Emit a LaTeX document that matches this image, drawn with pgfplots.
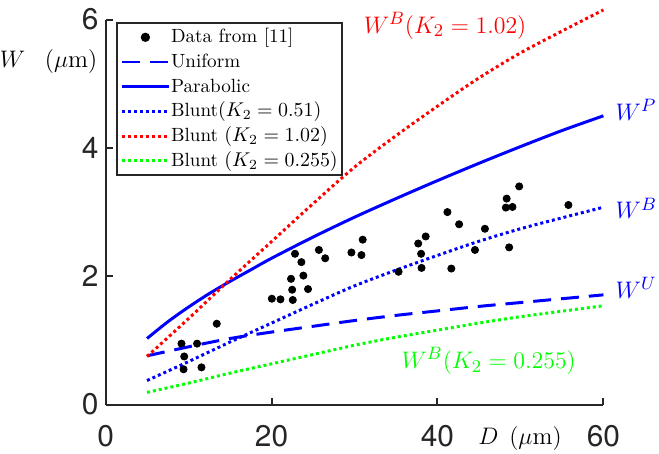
\documentclass[border=0pt]{standalone}
\usepackage{fontspec}
\usepackage{pgfplots}
\pgfplotsset{compat=1.18}
\newfontfamily\helv{TeX Gyre Heros}
\definecolor{axgray}{RGB}{38,38,38}
\pgfplotsset{
  linelegend/.style={legend image code/.code={\draw[##1] (0pt,0pt) -- (23.5pt,0pt);}},
  marklegend/.style={legend image code/.code={\draw[##1] plot coordinates {(11.75pt,0pt)};}},
  dotline/.style={line width=1.5pt, dash pattern=on 1.5pt off 1.5pt},
}
\begin{document}
\begin{tikzpicture}
\begin{axis}[
  scale only axis, width=250pt, height=193.35pt,
  xmin=0, xmax=60, ymin=0, ymax=6, clip=false,
  axis lines=left, axis line style={-, draw=axgray, line width=1pt},
  tick align=inside, major tick length=3.5pt, tick style={axgray, line width=1pt},
  xtick={0,20,40,60}, ytick={0,2,4,6},
  tick label style={font=\helv\fontsize{15}{18}\selectfont, text=axgray},
  xticklabel style={yshift=-7pt},
  /pgf/number format/assume math mode=true,
  legend cell align=left,
  legend style={at={(axis cs:1.2,5.964)}, anchor=north west, draw=axgray, line width=1pt,
    font=\fontsize{9.6}{11}\selectfont, inner xsep=2pt, inner ysep=1.5pt, row sep=0.9pt,
    nodes={inner sep=0.4pt, text height=8.1pt, text depth=2.6pt},
    /tikz/every even column/.append style={column sep=1pt}},
]
% measured widths from [11]
\addplot[only marks, mark=*, mark size=1.8pt, black, marklegend] coordinates {
(9.15,0.95) (9.48,0.75) (9.40,0.55) (11.03,0.95) (11.56,0.58) (13.40,1.26)
(20.04,1.65) (21.08,1.64) (22.56,1.63) (22.49,1.79) (22.35,1.96) (23.84,2.01)
(24.40,1.80) (23.60,2.22) (22.83,2.35) (25.71,2.41) (26.47,2.28) (29.63,2.37)
(30.84,2.33) (30.99,2.57) (35.31,2.07) (38.08,2.13) (38.03,2.35) (37.68,2.51)
(38.58,2.62) (41.20,3.00) (41.67,2.12) (42.61,2.81) (44.52,2.41) (45.72,2.74)
(48.34,3.21) (48.24,3.07) (49.04,3.08) (49.85,3.40) (48.64,2.45) (55.78,3.11)};
\addlegendentry{Data from [11]}
% uniform
\addplot[blue, line width=1.5pt, dash pattern=on 9pt off 5pt, linelegend, smooth] coordinates {
(5,0.76) (10,0.90) (15,1.03) (20,1.13) (25,1.22) (30,1.31) (35,1.39) (40,1.46)
(45,1.53) (50,1.59) (55,1.65) (60,1.71)};
\addlegendentry{Uniform}
% parabolic
\addplot[blue, line width=1.5pt, linelegend, smooth] coordinates {
(5,1.03) (7.5,1.29) (10,1.52) (12.5,1.73) (15,1.92) (17.5,2.10) (20,2.28) (25,2.61)
(30,2.92) (35,3.21) (40,3.49) (45,3.76) (50,4.02) (55,4.27) (60,4.50)};
\addlegendentry{Parabolic}
% blunt K2 = 0.51
\addplot[blue, dotline, linelegend, smooth] coordinates {
(5,0.375) (10,0.67) (15,0.975) (20,1.27) (25,1.565) (30,1.85) (35,2.095) (40,2.325)
(45,2.545) (50,2.74) (55,2.91) (60,3.075)};
\addlegendentry{Blunt$(K_2=0.51)$}
% blunt K2 = 1.02
\addplot[red, dotline, linelegend, smooth] coordinates {
(5,0.75) (10,1.34) (15,1.95) (20,2.54) (25,3.13) (30,3.70) (35,4.19) (40,4.65)
(45,5.09) (50,5.48) (55,5.82) (60,6.15)};
\addlegendentry{Blunt $(K_2=1.02)$}
% blunt K2 = 0.255
\addplot[green, dotline, linelegend, smooth] coordinates {
(5,0.19) (10,0.335) (15,0.49) (20,0.635) (25,0.78) (30,0.925) (35,1.05) (40,1.16)
(45,1.27) (50,1.37) (55,1.455) (60,1.54)};
\addlegendentry{Blunt $(K_2=0.255)$}

\node[anchor=base west, inner sep=0, text=red, font=\fontsize{12.6}{15}\selectfont] at (axis cs:31.07,5.79) {$W^B(K_2=1.02)$};
\node[anchor=base west, inner sep=0, text=green, font=\fontsize{12.6}{15}\selectfont] at (axis cs:35.63,0.56) {$W^B(K_2=0.255)$};
\node[anchor=base west, inner sep=0, text=blue, font=\fontsize{12.6}{15}\selectfont] at (axis cs:61.43,4.43) {$W^P$};
\node[anchor=base west, inner sep=0, text=blue, font=\fontsize{12.6}{15}\selectfont] at (axis cs:61.43,2.895) {$W^B$};
\node[anchor=base west, inner sep=0, text=blue, font=\fontsize{12.6}{15}\selectfont] at (axis cs:61.43,1.655) {$W^U$};
\node[anchor=base east, inner sep=0, font=\fontsize{12.3}{14}\selectfont] at (axis cs:-0.96,5.25) {$W$\hspace{0.8em}$(\mu\mathrm{m})$};
\node[anchor=base west, inner sep=0, font=\fontsize{12.3}{14}\selectfont] at (axis cs:44.87,-0.62) {$D$\hspace{0.45em}$(\mu\mathrm{m})$};
\path (axis cs:-12.36,-0.749) rectangle (axis cs:66.7,6.305);
\end{axis}
\end{tikzpicture}
\end{document}
